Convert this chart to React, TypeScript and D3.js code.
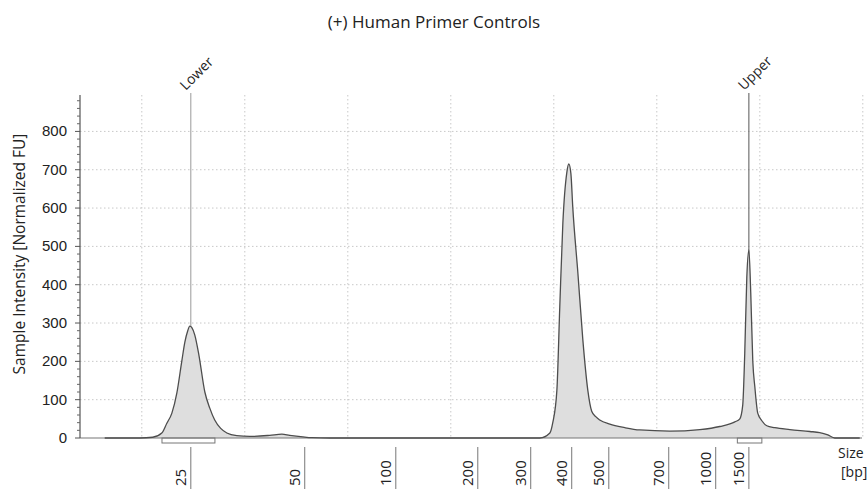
import React from 'react';
import * as d3 from 'd3';

// electropherogram trace: migration time [s] vs intensity [FU]
const traceTime = [
  23.2, 24.9, 25.53, 25.97, 26.21, 26.46, 26.7, 26.94, 27.09, 27.23, 27.33, 27.43, 27.57, 27.77,
  28.06, 28.3, 28.54, 28.83, 29.13, 29.61, 30.24, 31.21, 31.8, 32.18, 32.82, 33.25, 34.13, 44.32,
  44.81, 44.95, 45.15, 45.29, 45.44, 45.63, 45.73, 45.83, 45.92, 46.17, 46.41, 46.65, 46.84, 47.05, 47.23,
  47.72, 48.45, 49.17, 50.63, 52.09, 53.06, 53.79, 54.03, 54.17, 54.27, 54.37, 54.47, 54.56, 54.66,
  54.76, 54.9, 55.1, 55.34, 55.73, 56.46, 57.43, 57.91, 58.3, 58.64, 59.85,
];
const traceFU = [
  0, 0, 2, 13, 38, 65, 117, 200, 250, 280, 292, 288, 269, 217,
  120, 78, 47, 25, 13, 6, 4, 7, 10, 7, 3, 1, 0, 0,
  13, 40, 125, 342, 561, 692, 715, 690, 603, 430, 256, 125, 70, 55, 47,
  36, 27, 21, 18, 22, 30, 42, 50, 85, 222, 420, 491, 380, 200,
  133, 65, 45, 32, 27, 22, 17, 14, 8, 0, 0,
];

// size ladder: bp label and its migration time
const ladderBp = ['25', '50', '100', '200', '300', '400', '500', '700', '1000', '1500'];
const ladderTime = [27.38, 32.91, 37.33, 41.31, 43.88, 45.87, 47.67, 50.58, 52.86, 54.47];

// markers
const markerNames = ['Lower', 'Upper'];
const markerTime = [27.38, 54.47];
const markerFrom = [25.98, 53.91];
const markerTo = [28.55, 55.1];

const yTicks = [0, 100, 200, 300, 400, 500, 600, 700, 800];
const gridTimes = [25, 30, 35, 40, 45, 50, 55, 60];

const W = 868;
const H = 489;

export default function App() {
  const x = d3.scaleLinear().domain([22, 60]).range([80, 862.8]);
  const y = d3.scaleLinear().domain([0, 895]).range([438, 95]);
  const pts = traceTime.map((t, i) => [t, traceFU[i]] as [number, number]);

  const area = d3.area<[number, number]>()
    .x(d => x(d[0]))
    .y0(y(0))
    .y1(d => y(d[1]))
    .curve(d3.curveMonotoneX);
  const line = d3.line<[number, number]>()
    .x(d => x(d[0]))
    .y(d => y(d[1]))
    .curve(d3.curveMonotoneX);

  const minor = d3.range(0, 900, 20).filter(v => v % 100 !== 0);
  const font = '"Open Sans", "Liberation Sans", sans-serif';

  return (
    <div style={{ position: 'fixed', left: 0, top: 0 }}>
      <svg width={W} height={H} style={{ display: 'block', background: '#fff' }} fontFamily={font}>
        <text x={434} y={28} textAnchor="middle" fontSize={17} fill="#222">(+) Human Primer Controls</text>

        {/* grid */}
        {yTicks.filter(v => v > 0).map(v => (
          <line key={'hy' + v} x1={80} x2={862} y1={y(v)} y2={y(v)} stroke="#c8c8c8" strokeDasharray="1.5,2.5" />
        ))}
        {gridTimes.map(t => (
          <line key={'vx' + t} x1={x(t)} x2={x(t)} y1={95} y2={438} stroke="#c8c8c8" strokeDasharray="1.5,2.5" />
        ))}

        {/* marker lines */}
        {markerNames.map((m, i) => (
          <g key={m}>
            <line x1={x(markerTime[i])} x2={x(markerTime[i])} y1={93} y2={438}
              stroke={i === 0 ? '#9a9a9a' : '#555'} strokeWidth={1} />
            <text transform={`translate(${x(markerTime[i]) - 5},${91}) rotate(-45)`} fontSize={14} fill="#222">{m}</text>
          </g>
        ))}

        {/* trace */}
        <path d={area(pts) ?? ''} fill="#dedede" />
        <line x1={80} x2={862} y1={438} y2={438} stroke="#777" strokeWidth={1.2} />
        <path d={line(pts) ?? ''} fill="none" stroke="#4d4d4d" strokeWidth={1.3} />

        {/* marker integration boxes */}
        {markerNames.map((m, i) => (
          <rect key={'box' + m} x={x(markerFrom[i])} y={438} width={x(markerTo[i]) - x(markerFrom[i])} height={5}
            fill="none" stroke="#777" strokeWidth={1} />
        ))}

        {/* y axis */}
        <line x1={80} x2={80} y1={95} y2={438} stroke="#555" strokeWidth={1.2} />
        {minor.map(v => (
          <line key={'mn' + v} x1={77} x2={80} y1={y(v)} y2={y(v)} stroke="#666" />
        ))}
        {yTicks.map(v => (
          <g key={'yt' + v}>
            <line x1={75} x2={80} y1={y(v)} y2={y(v)} stroke="#555" />
            <text x={67} y={y(v) + 5} textAnchor="end" fontSize={15} fontFamily='"Liberation Sans", Arial, sans-serif' fill="#222">{v}</text>
          </g>
        ))}
        <text transform={`translate(25,${254}) rotate(-90)`} textAnchor="middle" fontSize={15.5} fill="#222">
          Sample Intensity [Normalized FU]
        </text>

        {/* bp ladder */}
        {ladderBp.map((b, i) => (
          <g key={'bp' + b}>
            <line x1={x(ladderTime[i])} x2={x(ladderTime[i])} y1={447} y2={H} stroke="#777" />
            <text transform={`translate(${x(ladderTime[i]) - 5},${486}) rotate(-90)`} fontSize={15} fill="#222">{b}</text>
          </g>
        ))}
        <text x={838} y={458} fontSize={14} fill="#222">Size</text>
        <text x={841} y={477} fontSize={14} fill="#222">[bp]</text>
      </svg>
    </div>
  );
}
